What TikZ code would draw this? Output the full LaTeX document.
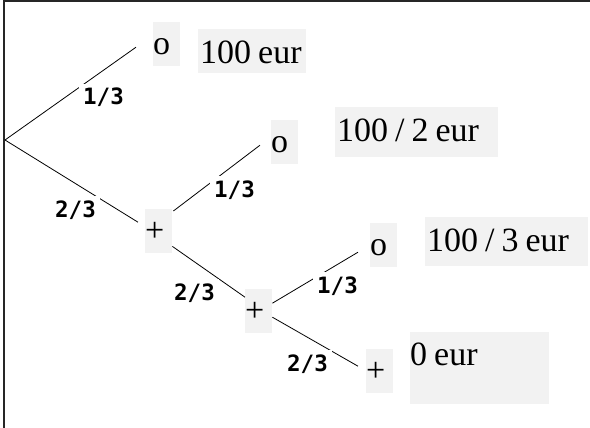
\documentclass[tikz,border=0pt]{standalone}
\usepackage{fontspec}
\setmainfont{Liberation Serif}
\newfontfamily\lblfont{DejaVu Sans Mono}
\newcommand\bigserif{\fontsize{34}{38}\selectfont\fontdimen2\font=7pt\relax}
\begin{document}
\begin{tikzpicture}[x=1pt,y=-1pt,
  box/.style={fill=black!5, anchor=north west, inner sep=0pt},
  small/.style={box, text height=32pt, text depth=12pt, font=\bigserif},
  val/.style={box, font=\bigserif},
  lbl/.style={fill=white, anchor=base west, inner sep=4pt, font=\lblfont\bfseries\fontsize{22.5}{24}\selectfont},
  edge/.style={line width=0.8pt}]
\useasboundingbox (0,0) rectangle (590,428);
\draw[line width=1.6pt, black!85] (4,428) -- (4,0.8) -- (590,0.8);

\coordinate (root) at (5,140);
\node[small] (o1) at (153,22) {\makebox[27pt][l]{o}};
\node[small] (p2) at (145,209) {\makebox[27pt][l]{+}};
\node[small] (o2) at (271,120) {\makebox[27pt][l]{o}};
\node[small] (p3) at (245,289) {\makebox[27pt][l]{+}};
\node[small] (o3) at (370,223) {\makebox[27pt][l]{o}};
\node[small] (p4) at (366,349) {\makebox[27pt][l]{+}};

\node[val, text height=34pt, text depth=10pt] (v1) at (198,29) {\makebox[108pt][l]{\hspace{2pt}100 eur}};
\node[val, text height=34pt, text depth=16pt] (v2) at (335,107) {\makebox[163pt][l]{\hspace{2pt}100 / 2 eur}};
\node[val, text height=34pt, text depth=15pt] (v3) at (425,217) {\makebox[163pt][l]{\hspace{2pt}100 / 3 eur}};
\node[val, text height=33pt, text depth=39pt] (v4) at (410,332) {\makebox[139pt][l]{0 eur}};

\draw[edge] (root) -- ([shift={(-17,3)}]o1.west);
\draw[edge] (root) -- ([shift={(-7,-9)}]p2.west);
\draw[edge] ([shift={(1,2)}]p2.north east) -- ([shift={(-11,3)}]o2.west);
\draw[edge] ([shift={(0,-7)}]p2.south east) -- ([shift={(0,-14)}]p3.west);
\draw[edge] ([shift={(0,-8)}]p3.east) -- ([shift={(-12,7)}]o3.west);
\draw[edge] ([shift={(0,6)}]p3.east) -- ([shift={(-8,-5)}]p4.west);

\node[lbl] (l1) at (79,105) {1/3};
\node[lbl] (l2) at (51,217) {2/3};
\node[lbl] (l3) at (210,197) {1/3};
\node[lbl] (l4) at (170,300) {2/3};
\node[lbl] (l5) at (313,293) {1/3};
\node[lbl] (l6) at (283,371) {2/3};
\end{tikzpicture}
\end{document}
